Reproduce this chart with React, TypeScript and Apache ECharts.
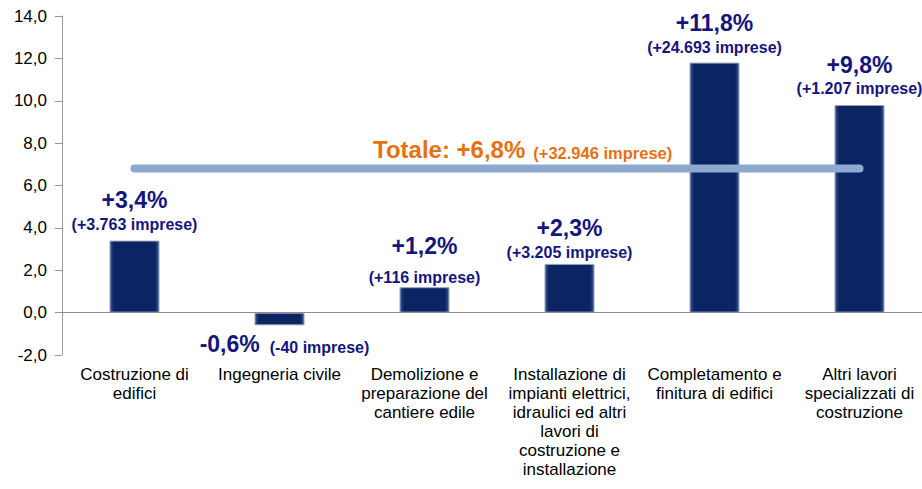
import React, { useEffect, useRef } from "react";
import * as echarts from "echarts";

const categories = [
  "Costruzione di\nedifici",
  "Ingegneria civile",
  "Demolizione e\npreparazione del\ncantiere edile",
  "Installazione di\nimpianti elettrici,\nidraulici ed altri\nlavori di\ncostruzione e\ninstallazione",
  "Completamento e\nfinitura di edifici",
  "Altri lavori\nspecializzati di\ncostruzione",
];
const pctValues = [3.4, -0.6, 1.2, 2.3, 11.8, 9.8];
const impreseValues = [3763, -40, 116, 3205, 24693, 1207];
const totalPct = 6.8;
const totalImprese = 32946;
const yMin = -2;
const yMax = 14;
const yInterval = 2;

const NAVY_TEXT = "#15157c";
const ORANGE = "#e8700f";
const FONT = "'Liberation Sans', Arial, Helvetica, sans-serif";

const fmtPct = (v: number) =>
  (v > 0 ? "+" : v < 0 ? "-" : "") + Math.abs(v).toFixed(1).replace(".", ",") + "%";
const fmtImp = (n: number) =>
  (n >= 0 ? "+" : "-") + String(Math.abs(n)).replace(/\B(?=(\d{3})+(?!\d))/g, ".");

// per-bar label spacing tweaks (layout only)
const labelLayout = [
  { lh: 30, dist: 6 },
  { lh: 26, dist: 4 },
  { lh: 42, dist: 0 },
  { lh: 30, dist: 1 },
  { lh: 30, dist: 5 },
  { lh: 27, dist: 6 },
];

export default function App() {
  const ref = useRef<HTMLDivElement>(null);
  useEffect(() => {
    if (!ref.current) return;
    const chart = echarts.init(ref.current, undefined, { renderer: "svg" });

    const barData = pctValues.map((v, i) => {
      const L = labelLayout[i];
      const neg = v < 0;
      return {
        value: v,
        label: {
          show: true,
          position: neg ? "bottom" : "top",
          distance: L.dist,
          offset: neg ? [5, 0] : [0, 0],
          formatter: neg
            ? `{a|${fmtPct(v)}}{b|(${fmtImp(impreseValues[i])} imprese)}`
            : `{a|${fmtPct(v)}}\n{b|(${fmtImp(impreseValues[i])} imprese)}`,
          rich: {
            a: {
              fontSize: 23,
              fontWeight: "bold",
              color: NAVY_TEXT,
              fontFamily: FONT,
              lineHeight: L.lh,
              verticalAlign: neg ? "bottom" : "middle",
            },
            b: {
              fontSize: 16,
              fontWeight: "bold",
              color: NAVY_TEXT,
              fontFamily: FONT,
              lineHeight: neg ? L.lh : 20,
              verticalAlign: neg ? "bottom" : "middle",
              padding: neg ? [0, 0, 0, 10] : 0,
            },
          },
        },
      };
    });

    chart.setOption({
      animation: false,
      backgroundColor: "#ffffff",
      grid: {
        left: 62,
        top: 16,
        width: 870,
        height: 339,
        containLabel: false,
        outerBoundsMode: "none",
      },
      xAxis: {
        type: "category",
        data: categories,
        axisLine: { show: false, onZero: false },
        axisTick: { show: false },
        axisLabel: {
          interval: 0,
          color: "#000",
          fontSize: 17,
          lineHeight: 19,
          fontFamily: FONT,
          margin: 10,
          align: "center",
        },
      },
      yAxis: {
        type: "value",
        min: yMin,
        max: yMax,
        interval: yInterval,
        splitLine: { show: false },
        axisLine: { show: true, lineStyle: { color: "#999", width: 1 } },
        axisTick: { show: true, length: 7, lineStyle: { color: "#999" } },
        axisLabel: {
          color: "#000",
          fontSize: 17,
          fontFamily: FONT,
          margin: 15,
          formatter: (v: number) => v.toFixed(1).replace(".", ","),
        },
      },
      series: [
        {
          type: "bar",
          data: barData,
          barWidth: 50,
          z: 2,
          itemStyle: {
            color: new echarts.graphic.LinearGradient(0, 0, 1, 0, [
              { offset: 0, color: "#3a5896" },
              { offset: 0.08, color: "#0b2463" },
              { offset: 0.92, color: "#0b2463" },
              { offset: 1, color: "#3a5896" },
            ]),
            borderColor: "#9aa2b4",
            borderWidth: 1,
          },
          markLine: {
            silent: true,
            symbol: "none",
            label: { show: false },
            lineStyle: { color: "#8c8c8c", width: 1, type: "solid" },
            data: [{ yAxis: 0 }],
          },
        },
        {
          type: "line",
          data: categories.map(() => totalPct),
          symbol: "none",
          z: 5,
          lineStyle: { color: "#8ea9cf", width: 8, cap: "round" },
        },
      ],
      graphic: [
        {
          type: "text",
          x: 373,
          y: 148,
          z: 10,
          style: {
            text: `{a|Totale: ${fmtPct(totalPct)}}{b|(${fmtImp(totalImprese)} imprese)}`,
            verticalAlign: "middle",
            rich: {
              a: {
                fontSize: 24,
                fontWeight: "bold",
                fill: ORANGE,
                fontFamily: FONT,
                lineHeight: 26,
                verticalAlign: "bottom",
              },
              b: {
                fontSize: 16.5,
                fontWeight: "bold",
                fill: ORANGE,
                fontFamily: FONT,
                lineHeight: 25,
                verticalAlign: "bottom",
                padding: [0, 0, 0, 8],
              },
            },
          },
        },
      ],
    });
    return () => chart.dispose();
  }, []);
  return (
    <div
      ref={ref}
      style={{ position: "fixed", left: 0, top: 0, width: 922, height: 489, background: "#fff" }}
    />
  );
}
